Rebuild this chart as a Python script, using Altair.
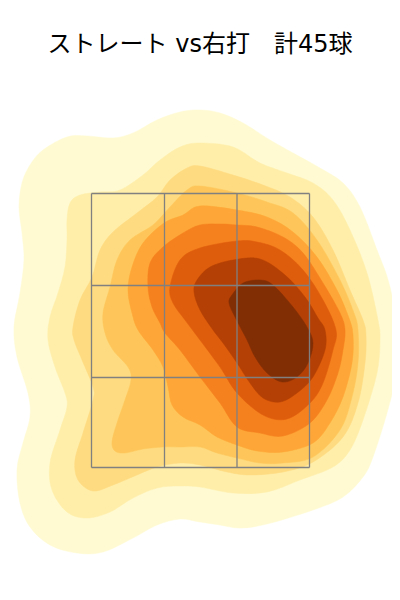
import altair as alt
import pandas as pd

title_text = "ストレート vs右打\u3000計45球"
grid_x = [91.5, 164.5, 237, 309.5]
grid_y = [193.5, 285.5, 377.5, 467.5]
colors = ["#FFFAD2", "#FFEEAA", "#FEDB80", "#FEC65A", "#FEA637", "#F5801E", "#DE5D0C", "#B44005", "#822E05"]

level1 = [(200,110),(180,112),(157,120),(133,133),(113,138),(87,136),(67,137),(43,150),(30,165),(22,183),(19,207),(22,233),(24,260),(20,293),(14,327),(17,357),(28,393),(30,417),(23,443),(17,470),(20,503),(30,527),(50,545),(77,553),(103,552),(133,538),(157,525),(180,519),(200,522),(220,525),(240,528),(267,524),(313,510),(343,497),(363,477),(373,457),(387,413),(395,380),(400,345),(390,287),(377,250),(360,207),(343,183),(320,168),(293,153),(270,140),(243,123),(220,113)]
level2 = [(200,143),(180,147),(160,160),(143,175),(120,190),(100,192),(80,195),(70,203),(67,220),(67,240),(65,267),(58,293),(50,317),(48,340),(55,367),(65,393),(67,407),(60,430),(50,463),(52,490),(67,512),(87,518),(110,512),(133,498),(157,488),(180,486),(200,487),(233,493),(267,492),(300,480),(333,467),(350,450),(363,420),(377,373),(380,340),(378,320),(367,273),(350,230),(333,200),(313,183),(287,173),(260,163),(233,147)]
level3 = [(200,166),(187,168),(170,180),(157,197),(137,213),(113,232),(100,250),(92,277),(80,300),(73,327),(74,340),(82,360),(93,387),(93,400),(83,433),(75,460),(78,480),(93,491),(113,485),(137,475),(157,467),(180,463),(200,465),(227,472),(250,475),(283,472),(313,462),(343,437),(358,403),(365,363),(366,335),(363,320),(350,290),(333,250),(313,217),(290,197),(263,185),(233,175)]
level4 = [(200,186),(187,190),(170,207),(153,225),(130,240),(117,260),(110,287),(103,313),(105,333),(113,350),(128,367),(131,380),(125,400),(117,423),(112,442),(115,451),(125,453),(143,449),(163,447),(180,447),(200,447),(217,453),(237,458),(260,463),(283,463),(313,457),(340,430),(352,397),(358,363),(358,330),(354,313),(340,280),(317,240),(293,213),(267,202),(237,193)]
level5 = [(200,206),(183,215),(164,223),(143,243),(132,267),(128,290),(132,313),(138,330),(153,350),(163,367),(168,387),(172,405),(183,417),(200,425),(217,437),(237,445),(257,451),(283,452),(313,443),(330,423),(343,397),(352,363),(353,335),(349,318),(337,290),(317,257),(293,232),(267,217),(237,210)]
level6 = [(200,225),(183,233),(163,247),(150,263),(148,287),(152,307),(160,323),(165,333),(180,350),(200,377),(220,403),(237,427),(260,433),(283,436),(310,423),(327,400),(338,373),(343,350),(345,330),(340,313),(323,283),(303,253),(283,237),(257,227),(237,225),(220,224)]
level7 = [(200,248),(180,260),(170,287),(173,303),(185,320),(200,340),(220,367),(237,393),(263,415),(287,419),(310,403),(323,383),(333,350),(336,330),(323,300),(303,270),(280,250),(257,242),(237,241)]
level8 = [(210,267),(197,280),(194,292),(200,310),(213,330),(223,343),(237,363),(250,383),(263,398),(280,402),(297,393),(313,377),(325,350),(325,330),(318,318),(305,297),(285,275),(260,259),(233,260)]
level9 = [(260,280),(243,283),(232,295),(229,303),(235,317),(247,340),(255,357),(267,373),(282,382),(297,377),(308,363),(313,343),(307,327),(293,307),(273,285)]
levels = [level1, level2, level3, level4, level5, level6, level7, level8, level9]

x_scale = alt.Scale(domain=[8, 392], nice=False, zero=False)
y_scale = alt.Scale(domain=[600, 78], nice=False, zero=False)

layers = []
for pts, col in zip(levels, colors):
    df = pd.DataFrame({"x": [p[0] for p in pts], "y": [p[1] for p in pts], "i": list(range(len(pts)))})
    layers.append(
        alt.Chart(df).mark_line(filled=True, interpolate="cardinal-closed", fill=col, stroke=col, strokeWidth=0.5).encode(
            x=alt.X("x:Q", scale=x_scale, axis=None),
            y=alt.Y("y:Q", scale=y_scale, axis=None),
            order="i:O",
        )
    )

vdf = pd.DataFrame({"x": grid_x, "y0": grid_y[0], "y1": grid_y[-1]})
hdf = pd.DataFrame({"y": grid_y, "x0": grid_x[0], "x1": grid_x[-1]})
vlines = alt.Chart(vdf).mark_rule(color="#808080", strokeWidth=1.3).encode(
    x=alt.X("x:Q", scale=x_scale, axis=None),
    y=alt.Y("y0:Q", scale=y_scale, axis=None),
    y2="y1:Q",
)
hlines = alt.Chart(hdf).mark_rule(color="#808080", strokeWidth=1.3).encode(
    y=alt.Y("y:Q", scale=y_scale, axis=None),
    x=alt.X("x0:Q", scale=x_scale, axis=None),
    x2="x1:Q",
)

chart = alt.layer(*layers, vlines, hlines).properties(
    width=384,
    height=522,
    padding={"left": 0, "top": 70, "right": 0, "bottom": 0},
    autosize=alt.AutoSizeParams(type="none"),
    title=alt.TitleParams(title_text, font="DejaVu Sans, Noto Sans CJK JP", fontSize=24, fontWeight="normal", color="#000000", anchor="middle", offset=21),
).configure_view(stroke=None)

chart.save("out.html", embed_options={"renderer": "svg", "actions": False})
